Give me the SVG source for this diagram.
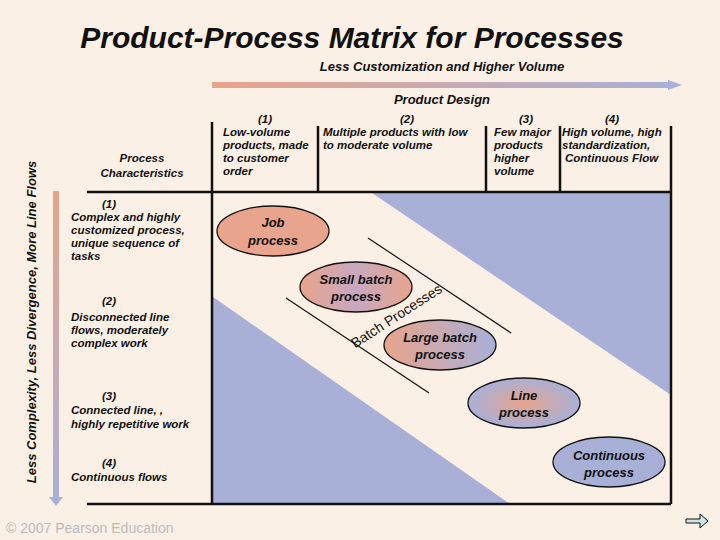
<svg xmlns="http://www.w3.org/2000/svg" width="720" height="540" viewBox="0 0 720 540">
<style>
text{font-family:"Liberation Sans",Arial,sans-serif;font-style:italic;font-weight:bold;fill:#111}
.s{font-size:11.5px}
.n{font-size:13px}
.e{stroke:#111;stroke-width:1.3}
.ln{stroke:#111;stroke-width:2.5;fill:none}
</style>
<defs>
<linearGradient id="gh" x1="0" x2="1" y1="0" y2="0"><stop offset="0" stop-color="#E8A48C"/><stop offset="1" stop-color="#A8B0D8"/></linearGradient>
<linearGradient id="gv" x1="0" x2="0" y1="0" y2="1"><stop offset="0" stop-color="#E8A48C"/><stop offset="1" stop-color="#A8B0D8"/></linearGradient>
<radialGradient id="g1"><stop offset="0" stop-color="#E8A48C"/><stop offset="1" stop-color="#E8A48C"/></radialGradient>
<linearGradient id="g2" x1="0" x2="1" y1="0" y2="0"><stop offset="0" stop-color="#E8A48C"/><stop offset="0.5" stop-color="#C8A8C0"/><stop offset="1" stop-color="#E8A48C"/></linearGradient>
<linearGradient id="g3" x1="0" x2="1" y1="0" y2="0"><stop offset="0" stop-color="#E8A48C"/><stop offset="1" stop-color="#A8B0D8"/></linearGradient>
<radialGradient id="g4"><stop offset="0" stop-color="#E8A48C"/><stop offset="1" stop-color="#A8B0D8"/></radialGradient>
</defs>
<rect width="720" height="540" fill="#FBF0E6"/>
<text x="352" y="48" font-size="30" text-anchor="middle">Product-Process Matrix for Processes</text>
<text x="442" y="71" class="n" text-anchor="middle">Less Customization and Higher Volume</text>
<polygon points="212,82 668,82 668,80 682,85 668,90 668,88 212,88" fill="url(#gh)"/>
<text x="442" y="104" class="n" text-anchor="middle">Product Design</text>
<text transform="translate(36,322) rotate(-90)" class="n" text-anchor="middle">Less Complexity, Less Divergence, More Line Flows</text>
<polygon points="53,191 59,191 59,497 63,497 56,506 49,497 53,497" fill="url(#gv)"/>
<g id="matrix">
<polygon points="372,193 671,193 671,395" fill="#A8B0D8"/>
<polygon points="213,297 510,504 213,504" fill="#A8B0D8"/>
<line x1="87" y1="192" x2="671" y2="192" class="ln"/>
<line x1="87" y1="504" x2="671" y2="504" class="ln"/>
<line x1="212" y1="122" x2="212" y2="504" class="ln"/>
<line x1="671" y1="126" x2="671" y2="504" class="ln"/>
<line x1="318" y1="126" x2="318" y2="192" class="ln"/>
<line x1="486" y1="126" x2="486" y2="192" class="ln"/>
<line x1="560" y1="126" x2="560" y2="192" class="ln"/>
</g>
<g id="columns" class="s">
<text x="265" y="123" text-anchor="middle">(1)</text>
<text x="223" y="136">Low-volume</text><text x="223" y="149">products, made</text><text x="223" y="162">to customer</text><text x="223" y="175">order</text>
<text x="407" y="123" text-anchor="middle">(2)</text>
<text x="323" y="136">Multiple products with low</text><text x="323" y="149">to moderate volume</text>
<text x="526" y="123" text-anchor="middle">(3)</text>
<text x="494" y="136">Few major</text><text x="494" y="149">products</text><text x="494" y="162">higher</text><text x="494" y="175">volume</text>
<text x="612" y="123" text-anchor="middle">(4)</text>
<text x="562" y="136">High volume, high</text><text x="562" y="149">standardization,</text><text x="565" y="162">Continuous Flow</text>
</g>
<g id="rows" class="s">
<text x="142" y="162" text-anchor="middle">Process</text><text x="142" y="177" text-anchor="middle">Characteristics</text>
<text x="102" y="208">(1)</text>
<text x="71" y="221">Complex and highly</text><text x="71" y="234">customized process,</text><text x="71" y="247">unique sequence of</text><text x="71" y="260">tasks</text>
<text x="102" y="305">(2)</text>
<text x="71" y="321">Disconnected line</text><text x="71" y="334">flows, moderately</text><text x="71" y="347">complex work</text>
<text x="102" y="400">(3)</text>
<text x="71" y="414">Connected line, ,</text><text x="71" y="428">highly repetitive work</text>
<text x="102" y="467">(4)</text>
<text x="71" y="481">Continuous flows</text>
</g>
<g id="connectors">
<line x1="368" y1="238" x2="511" y2="333" stroke="#111" stroke-width="1.2"/>
<line x1="286" y1="298" x2="429" y2="393" stroke="#111" stroke-width="1.2"/>
</g>
<text transform="translate(399,320) rotate(-33)" font-size="14" text-anchor="middle" style="font-style:normal;font-weight:normal">Batch Processes</text>
<g id="job"><ellipse cx="273" cy="231" rx="56" ry="25" fill="#E8A48C" class="e"/><text x="273" y="227" class="n" text-anchor="middle">Job</text><text x="273" y="245" class="n" text-anchor="middle">process</text></g>
<g id="small"><ellipse cx="356" cy="287" rx="56" ry="25" fill="url(#g2)" class="e"/><text x="356" y="284" class="n" text-anchor="middle">Small batch</text><text x="356" y="301" class="n" text-anchor="middle">process</text></g>
<g id="large"><ellipse cx="440" cy="345" rx="56" ry="25" fill="url(#g3)" class="e"/><text x="440" y="342" class="n" text-anchor="middle">Large batch</text><text x="440" y="359" class="n" text-anchor="middle">process</text></g>
<g id="line"><ellipse cx="524" cy="403" rx="56" ry="25" fill="url(#g4)" class="e"/><text x="524" y="400" class="n" text-anchor="middle">Line</text><text x="524" y="417" class="n" text-anchor="middle">process</text></g>
<g id="cont"><ellipse cx="609" cy="462" rx="56" ry="25" fill="#A8B0D8" class="e"/><text x="609" y="460" class="n" text-anchor="middle">Continuous</text><text x="609" y="477" class="n" text-anchor="middle">process</text></g>
<text x="6" y="533" font-size="14" fill="#BBB" style="fill:#bbb;font-style:normal;font-weight:normal">© 2007 Pearson Education</text>
<polygon points="686,519 700,519 700,514 708,521 700,528 700,523 686,523" fill="#CDE8E8" stroke="#111" stroke-width="1"/>
</svg>
